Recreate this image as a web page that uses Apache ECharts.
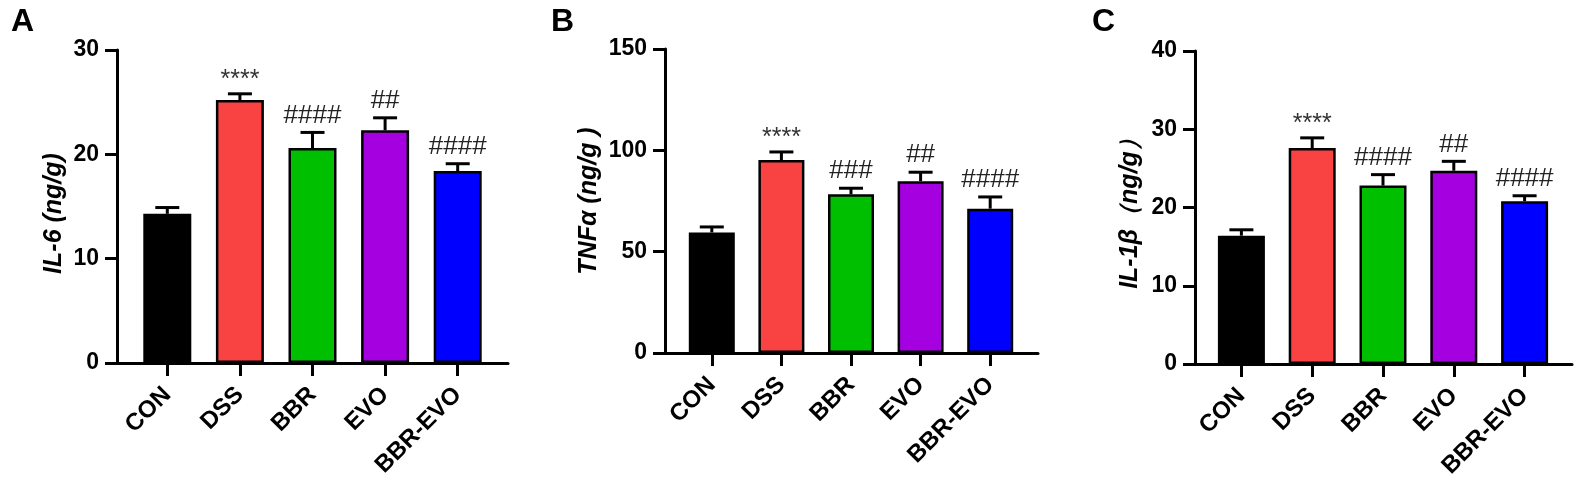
<!DOCTYPE html>
<html>
<head>
<meta charset="utf-8">
<script src="https://cdn.jsdelivr.net/npm/echarts@6/dist/echarts.min.js"></script>
<style>
html,body{margin:0;padding:0;background:#fff;}
#chart{width:1595px;height:481px;}
</style>
</head>
<body>
<div id="chart"></div>
<script>
// ---- data ----
const categories = ['CON', 'DSS', 'BBR', 'EVO', 'BBR-EVO'];

const il6Mean = [14.3, 25.2, 20.6, 22.3, 18.4];
const il6Err  = [0.6, 0.6, 1.5, 1.2, 0.7];
const il6Marks = ['', '****', '####', '##', '####'];

const tnfMean = [59.5, 95.2, 78.3, 84.8, 71.2];
const tnfErr  = [2.7, 4.0, 3.0, 4.4, 5.8];
const tnfMarks = ['', '****', '###', '##', '####'];

const il1bMean = [16.4, 27.6, 22.8, 24.7, 20.8];
const il1bErr  = [0.75, 1.3, 1.4, 1.2, 0.7];
const il1bMarks = ['', '****', '####', '##', '####'];

const yMaxes = [30, 150, 40];
const yIntervals = [10, 50, 10];
const yTitles = ['IL-6 (ng/g)', 'TNFα (ng/g )', 'IL-1β（ng/g）'];
const panelLetters = ['A', 'B', 'C'];

// ---- styles / layout ----
const barColors = ['#000000', '#F94343', '#00BE00', '#A500E0', '#0000FF'];
const layout = [
  {axisL: 117, axisR: 508, bandL: 131, bandR: 494, top: 50, bottom: 363, barW: 48, nameGap: 50, namePad: [0, 14, 0, 0], letterX: 11},
  {axisL: 665, axisR: 1038, bandL: 677, bandR: 1025, top: 49, bottom: 353, barW: 46, nameGap: 63, namePad: [0, 0, 0, 0], letterX: 551},
  {axisL: 1195, axisR: 1572, bandL: 1206, bandR: 1560, top: 51, bottom: 364, barW: 47, nameGap: 52, namePad: [0, 0, 0, 0], letterX: 1092}
];
const FONT = '"Liberation Sans", Arial, sans-serif';

const panels = [
  {mean: il6Mean, err: il6Err, marks: il6Marks},
  {mean: tnfMean, err: tnfErr, marks: tnfMarks},
  {mean: il1bMean, err: il1bErr, marks: il1bMarks}
];

const grid = [], xAxis = [], yAxis = [], series = [], title = [];

panels.forEach((p, i) => {
  const L = layout[i];
  grid.push({left: L.axisL, width: L.axisR - L.axisL, top: L.top, height: L.bottom - L.top,
             containLabel: false, outerBoundsMode: 'none'});
  grid.push({left: L.bandL, width: L.bandR - L.bandL, top: L.top, height: L.bottom - L.top,
             containLabel: false, outerBoundsMode: 'none'});

  xAxis.push({
    type: 'value', gridIndex: 2 * i, min: 0, max: 1,
    axisLine: {show: true, onZero: false, lineStyle: {color: '#000', width: 3}},
    axisTick: {show: false}, axisLabel: {show: false}, splitLine: {show: false}
  });
  yAxis.push({
    type: 'value', gridIndex: 2 * i, min: 0, max: yMaxes[i], interval: yIntervals[i],
    name: yTitles[i], nameLocation: 'middle', nameGap: L.nameGap,
    nameTextStyle: {fontFamily: FONT, fontSize: 25, fontWeight: 'bold', fontStyle: 'italic', color: '#000', padding: L.namePad},
    axisLine: {show: true, onZero: false, lineStyle: {color: '#000', width: 3}},
    axisTick: {show: true, length: 12, lineStyle: {color: '#000', width: 3}},
    axisLabel: {fontFamily: FONT, fontSize: 23, fontWeight: 'bold', color: '#000', margin: 18},
    splitLine: {show: false}
  });

  xAxis.push({
    type: 'category', gridIndex: 2 * i + 1, data: categories,
    axisLine: {show: false},
    axisTick: {show: true, alignWithLabel: true, length: 13, lineStyle: {color: '#000', width: 3}},
    axisLabel: {fontFamily: FONT, fontSize: 24, fontWeight: 'bold', color: '#000', rotate: 45, margin: 28,
                padding: [11, 0, 0, 0], interval: 0}
  });
  yAxis.push({
    type: 'value', gridIndex: 2 * i + 1, min: 0, max: yMaxes[i], show: false, splitLine: {show: false}
  });

  series.push({
    type: 'bar', xAxisIndex: 2 * i + 1, yAxisIndex: 2 * i + 1,
    barWidth: L.barW,
    data: p.mean.map((v, k) => ({value: v, itemStyle: {color: barColors[k]}})),
    itemStyle: {borderColor: '#000', borderWidth: 2.5},
    z: 2, animation: false
  });

  const marks = p.marks;
  series.push({
    type: 'custom', xAxisIndex: 2 * i + 1, yAxisIndex: 2 * i + 1,
    data: p.mean.map((v, k) => [k, v, p.err[k]]),
    z: 3, animation: false,
    renderItem: function (params, api) {
      const x = api.value(0), m = api.value(1), e = api.value(2);
      const p0 = api.coord([x, m]);
      const p1 = api.coord([x, m + e]);
      const mark = marks[params.dataIndex];
      const isStar = mark.indexOf('*') >= 0;
      const children = [
        {type: 'line', shape: {x1: p0[0], y1: p0[1], x2: p1[0], y2: p1[1]}, style: {stroke: '#000', lineWidth: 3}},
        {type: 'line', shape: {x1: p1[0] - 12, y1: p1[1], x2: p1[0] + 12, y2: p1[1]}, style: {stroke: '#000', lineWidth: 3}}
      ];
      if (mark) {
        children.push({
          type: 'text',
          style: {
            text: mark, x: p1[0], y: p1[1] - (isStar ? 1 : 4),
            align: 'center', verticalAlign: 'bottom',
            fontFamily: FONT, fontSize: isStar ? 25 : 26, fill: isStar ? '#333' : '#222'
          }
        });
      }
      return {type: 'group', children: children};
    }
  });

  title.push({
    text: panelLetters[i], left: L.letterX, top: 6, padding: 0,
    textStyle: {fontFamily: FONT, fontSize: 32, fontWeight: 'bold', color: '#000'}
  });
});

const chart = echarts.init(document.getElementById('chart'), null, {renderer: 'canvas'});
chart.setOption({
  backgroundColor: '#fff',
  animation: false,
  title: title,
  grid: grid,
  xAxis: xAxis,
  yAxis: yAxis,
  series: series
});
</script>
</body>
</html>
